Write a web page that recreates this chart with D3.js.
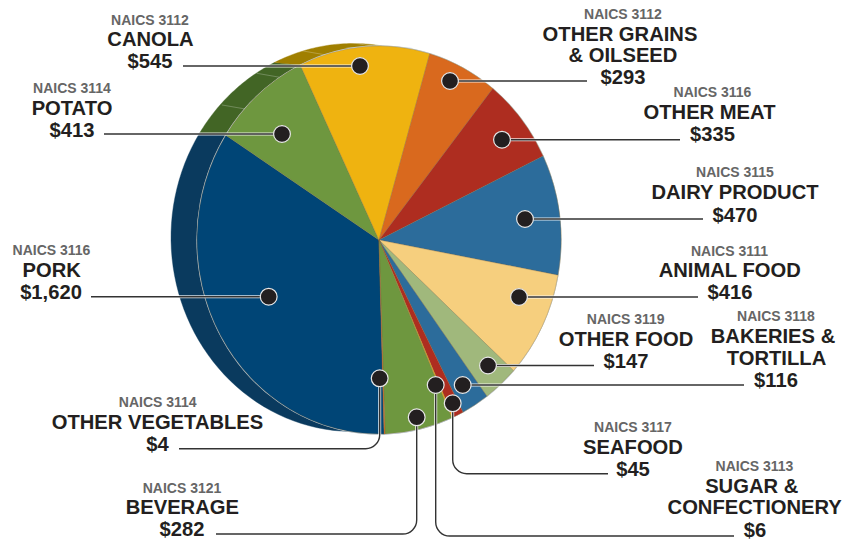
<!DOCTYPE html>
<html><head><meta charset="utf-8">
<script src="https://cdn.jsdelivr.net/npm/d3@7/dist/d3.min.js"></script>
<style>html,body{margin:0;background:#fff}svg{display:block}text{font-family:"Liberation Sans",Arial,sans-serif;font-weight:700;text-anchor:middle}</style>
</head><body><svg id="c" width="857" height="540"></svg>
<script>
const categories = ["PORK","POTATO","CANOLA","OTHER GRAINS & OILSEED","OTHER MEAT","DAIRY PRODUCT","ANIMAL FOOD","OTHER FOOD","BAKERIES & TORTILLA","SEAFOOD","SUGAR & CONFECTIONERY","BEVERAGE","OTHER VEGETABLES"];
const naics = ["3116","3114","3112","3112","3116","3115","3111","3119","3118","3117","3113","3121","3114"];
const values = [1620,413,545,293,335,470,416,147,116,45,6,282,4];
const valueLabels = ["$1,620","$413","$545","$293","$335","$470","$416","$147","$116","$45","$6","$282","$4"];
const colors = ["#004576","#6e973f","#efb310","#d9691e","#ae2d20","#2c6c9b","#f6cf7e","#a0b87c","#2c6c9b","#ae2d20","#efb310","#6e973f","#d9691e"];
const sideColors = ["#0a3a5e","#426525","#a07f00","#a07f00","#a07f00","#a07f00","#a07f00","#a07f00","#a07f00","#a07f00","#a07f00","#0a3a5e","#0a3a5e"];
const labelLines = [["PORK"],["POTATO"],["CANOLA"],["OTHER GRAINS","& OILSEED"],["OTHER MEAT"],["DAIRY PRODUCT"],["ANIMAL FOOD"],["OTHER FOOD"],["BAKERIES &","TORTILLA"],["SEAFOOD"],["SUGAR &","CONFECTIONERY"],["BEVERAGE"],["OTHER VEGETABLES"]];
const sideTickAngles = [312.5,327,342.7,357.8];

// Layout (annotation positions; slices come from d3.pie / d3.arc)
const cx=379, cy=240, rx=182, ry=194, sideDx=-26, sideDy=-2.5, rotation=-0.028;
const labelX = [[51.5,51.7,51],[72,72,72],[150,150.5,150],[623,620,623,623],[712.5,709.5,712.5],[735,735,735],[729.5,729.7,730],[625.7,626,626],[776,773,776.5,776],[633,633,633],[754.5,751.7,754.7,755],[182,182.3,182],[157.7,157.5,157.5]];
const labelY = [[255,277,299],[93,115,137],[25,46,68],[19,41,62,84],[97,119,141],[177,199,221.5],[256,277,299],[324,346,367.5],[321,343,365,387],[432,454,476],[471,493,514,537],[493,514,536],[407,429,451]];
const leaders = [
 [[268.7,296.7],[91,296.7]],[[282,134],[104,134]],[[360,66],[183,66]],[[450,81],[587,81]],
 [[502,139.7],[680,139.7]],[[525,219],[703,219]],[[519,297],[698,297]],[[488,365.5],[594,365.5]],
 [[462.7,385],[744,385]],[[452.7,403.3],[452.7,473.7],[608,473.7]],[[435.7,385],[435.7,536],[734,536]],
 [[416.7,417.3],[416.7,534],[216,534]],[[379.7,378.3],[379.7,448.7],[179,448.7]]];

const svg=d3.select("#c");
const pie=d3.pie().sort(null).value(d=>d).startAngle(Math.PI+rotation).endAngle(3*Math.PI+rotation);
const arcs=pie(values);
const arc=d3.arc().innerRadius(0).outerRadius(rx);
const k=ry/rx;
const edge=a=>[cx+rx*Math.sin(a),cy-ry*Math.cos(a)];
const polyLine=d3.line();

// extruded side: front-edge arc, then the same arc shifted back
function band(d){
  const f=d3.range(0,1.0001,1/48).map(t=>edge(d.startAngle+(d.endAngle-d.startAngle)*t));
  const b=f.map(p=>[p[0]+sideDx,p[1]+sideDy]).reverse();
  return polyLine(f.concat(b))+"Z";
}
svg.append("g").selectAll("path").data(arcs).join("path").attr("d",band)
  .attr("fill",(d,i)=>sideColors[i]).attr("stroke",(d,i)=>sideColors[i]).attr("stroke-width",.4);
svg.append("g").selectAll("line").data(sideTickAngles).join("line")
  .attr("x1",a=>edge(a*Math.PI/180)[0]).attr("y1",a=>edge(a*Math.PI/180)[1])
  .attr("x2",a=>edge(a*Math.PI/180)[0]-23).attr("y2",a=>edge(a*Math.PI/180)[1]-4)
  .attr("stroke","#fff").attr("stroke-opacity",.35).attr("stroke-width",.7);

const faceG=svg.append("g").attr("transform",`translate(${cx},${cy}) scale(1,${k})`);
faceG.append("circle").attr("r",rx+0.6).attr("fill","#c8d4dc");
faceG.selectAll("path").data(arcs).join("path").attr("d",arc).attr("fill",(d,i)=>colors[i])
  .attr("stroke","#8a6a3a").attr("stroke-opacity",.55).attr("stroke-width",.5);

const lg=svg.append("g").attr("fill","none");
function leaderPath(pts){
  const p=d3.path(); p.moveTo(pts[0][0],pts[0][1]);
  for(let i=1;i<pts.length-1;i++) p.arcTo(pts[i][0],pts[i][1],pts[i+1][0],pts[i+1][1],14);
  const e=pts[pts.length-1]; p.lineTo(e[0],e[1]); return p.toString();
}
lg.selectAll("path.h").data(leaders).join("path").attr("class","h").attr("d",leaderPath).attr("stroke","#fff").attr("stroke-opacity",.85).attr("stroke-width",3);
lg.selectAll("path.l").data(leaders).join("path").attr("class","l").attr("d",leaderPath).attr("stroke","#333").attr("stroke-width",1.4);
svg.append("g").selectAll("circle").data(leaders).join("circle")
  .attr("cx",d=>d[0][0]).attr("cy",d=>d[0][1]).attr("r",8.4)
  .attr("fill","#231f20").attr("stroke","#e8e8e8").attr("stroke-width",1.2);

categories.forEach((c,i)=>{
  const g=svg.append("g");
  const ys=labelY[i], xs=labelX[i];
  g.append("text").attr("x",xs[0]).attr("y",ys[0]).attr("font-size",14).attr("fill","#666").text("NAICS "+naics[i]);
  labelLines[i].forEach((t,j)=>g.append("text").attr("x",xs[j+1]).attr("y",ys[j+1]).attr("font-size",20.2).attr("fill","#231f20").text(t));
  g.append("text").attr("x",xs[xs.length-1]).attr("y",ys[ys.length-1]).attr("font-size",20.2).attr("fill","#231f20").text(valueLabels[i]);
});
</script></body></html>
